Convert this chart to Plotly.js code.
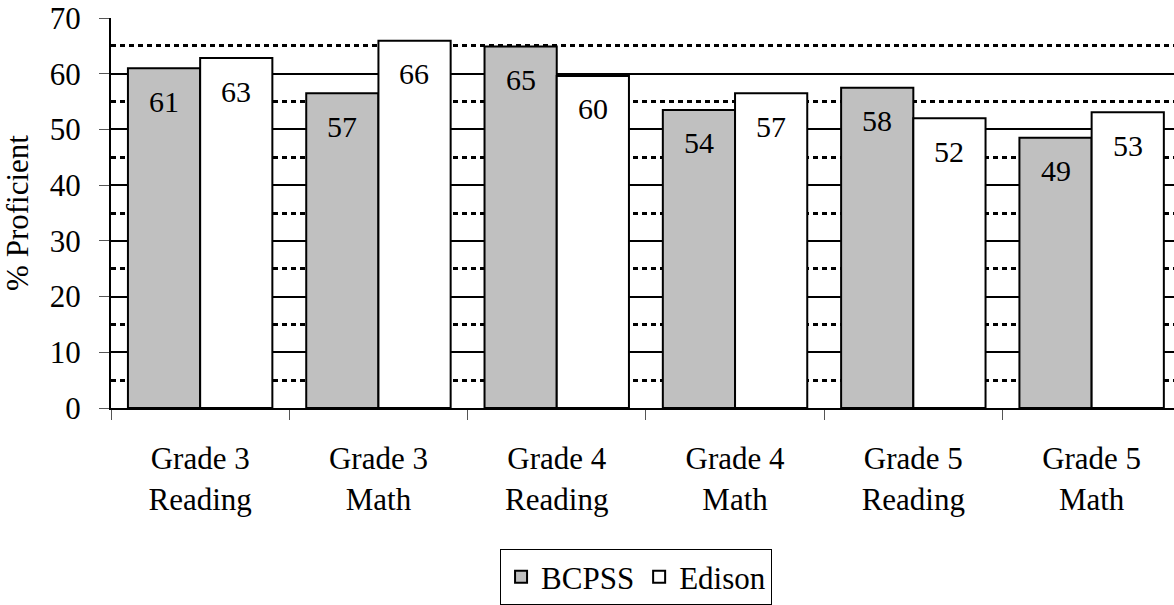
<!DOCTYPE html>
<html>
<head>
<meta charset="utf-8">
<script src="https://cdn.plot.ly/plotly-3.0.1.min.js"></script>
<style>
html,body{margin:0;padding:0;background:#fff;}
#chart{width:1174px;height:605px;}
</style>
</head>
<body>
<div id="chart"></div>
<script>
var categories = ["Grade 3<br>Reading", "Grade 3<br>Math", "Grade 4<br>Reading", "Grade 4<br>Math", "Grade 5<br>Reading", "Grade 5<br>Math"];
var bcpss = [61, 56.5, 64.9, 53.5, 57.5, 48.5];
var edison = [62.8, 65.9, 59.6, 56.5, 52.0, 53.1];
var seriesNames = ["BCPSS", "Edison"];
var yTicks = [0, 10, 20, 30, 40, 50, 60, 70];

var FONT = 'Liberation Serif';

var traces = [
  {type: 'bar', name: seriesNames[0], x: categories, y: bcpss,
   marker: {color: '#C0C0C0', line: {color: '#000', width: 2}}, hoverinfo: 'none'},
  {type: 'bar', name: seriesNames[1], x: categories, y: edison,
   marker: {color: '#FFFFFF', line: {color: '#000', width: 2}}, hoverinfo: 'none'}
];

var annotations = [];
[bcpss, edison].forEach(function(vals, s){
  vals.forEach(function(v, i){
    annotations.push({
      x: categories[i], y: v, xref: 'x', yref: 'y',
      text: String(Math.round(v)), showarrow: false,
      xshift: s === 0 ? -36 : 36, yshift: -33, yanchor: 'middle',
      font: {family: FONT, size: 30, color: '#000'}
    });
  });
});

var layout = {
  width: 1174, height: 605,
  margin: {l: 111, r: 0, t: 18, b: 193},
  paper_bgcolor: '#fff', plot_bgcolor: '#fff',
  font: {family: FONT, size: 31, color: '#000'},
  barmode: 'group', bargap: 0.19, bargroupgap: 0,
  showlegend: true,
  legend: {orientation: 'h', x: 0.366, xanchor: 'left', y: -0.363, yanchor: 'top',
           bordercolor: '#000', borderwidth: 1, font: {family: FONT, size: 31, color: '#000'},
           traceorder: 'normal', itemclick: false},
  xaxis: {type: 'category', range: [-0.5, 5.462], showline: true, linecolor: '#000', linewidth: 2,
          ticks: 'outside', tickson: 'boundaries', ticklen: 10, tickwidth: 1, tickcolor: '#555',
          showgrid: false, ticklabelstandoff: 22, fixedrange: true,
          tickfont: {family: FONT, size: 31, color: '#000'}},
  yaxis: {range: [0, 70], tickvals: yTicks, showgrid: true, gridcolor: '#000', gridwidth: 1.7,
          showline: true, linecolor: '#000', linewidth: 2, zeroline: false,
          ticks: 'outside', ticklen: 10, tickwidth: 1, tickcolor: '#555',
          ticklabelstandoff: 12, fixedrange: true,
          tickfont: {family: FONT, size: 31, color: '#000'},
          title: {text: '% Proficient', font: {family: FONT, size: 31, color: '#000'}, standoff: 14},
          minor: {dtick: 10, tick0: 5, showgrid: true, gridcolor: '#000', gridwidth: 2.8,
                  griddash: '5px,4px', ticks: ''}},
  annotations: annotations
};

Plotly.newPlot('chart', traces, layout, {displayModeBar: false});
</script>
</body>
</html>
